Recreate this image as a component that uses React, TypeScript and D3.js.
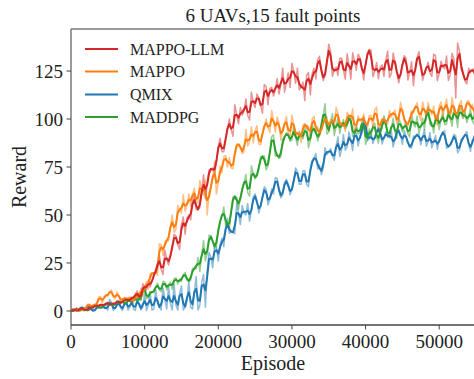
import React from 'react';
import * as d3 from 'd3';

const TITLE = '6 UAVs,15 fault points';
const X_LABEL = 'Episode';
const Y_LABEL = 'Reward';
const EPISODE_STEP = 500; // A arrays at 0, 500, 1000 ...; B arrays at 250, 750, 1250 ...
const EPISODE_OFFSET_B = 250;
const X_TICKS = [0, 10000, 20000, 30000, 40000, 50000];
const Y_TICKS = [0, 25, 50, 75, 100, 125];
const SERIES_NAMES = ['MAPPO-LLM', 'MAPPO', 'QMIX', 'MADDPG'];
const SERIES_COLORS = ['#d62728', '#ff7f0e', '#1f77b4', '#2ca02c'];

const MAPPO_LLM_RAW_A = [
  0, 0.8, 0.2, 1.6, 0.4, 1.7, 1.1, 2.8, 3.6, 2.8,
  4.6, 3.6, 3.3, 5.0, 5.0, 6.4, 5.4, 6.7, 10.5, 6.0,
  12, 16, 15.5, 20, 29, 19, 27, 29, 40, 35,
  45, 40, 50, 57, 53, 54, 71, 66, 74, 72,
  86, 83, 90, 100, 91, 102, 106, 104, 102, 114,
  106, 111, 103, 117, 116, 112, 121, 118, 114, 124,
  129, 118.6, 115.2, 119.2, 122.8, 112.6, 126.4, 131, 124.8, 122.4,
  139, 122.2, 127, 131.6, 125.6, 134, 120.8, 130.2, 133.8, 126.4,
  128.8, 136.2, 122, 129.4, 127, 122.2, 135.4, 123.6, 129.6, 118.8,
  128.2, 131.8, 124.4, 117.4, 132, 127.4, 123.8, 129.6, 122.2, 133.2,
  123.6, 127, 132.8, 123, 131.2, 139.6, 125.4, 119.8, 126.4, 125.6, 119.8,
];
const MAPPO_LLM_RAW_B = [
  0.45, 0, 1.4, 0.75, 0.35, 2.2, 3.3, 2.3, 3.1, 3.95,
  2.9, 4.2, 5.15, 3.7, 5.4, 5.45, 7.25, 7.95, 6.75, 14.25,
  11, 12.5, 19, 24, 21.5, 31.5, 24, 32.5, 39, 32,
  49, 48.5, 47.5, 60.5, 52.5, 62, 58.5, 73.5, 74.5, 77.5,
  90, 83, 95, 94.5, 107.5, 97.5, 102, 110.5, 99.5, 108.5,
  113, 107.5, 118, 107.5, 116.5, 115.5, 113, 126.5, 119, 116.5,
  125.1, 126.5, 116.6, 109.6, 124.3, 123.7, 120.9, 132.7, 120, 128.9,
  135.4, 125.8, 122.7, 131.6, 120.8, 128, 134.5, 125.4, 131.9, 120.4,
  134.3, 135.7, 125.1, 121, 128.2, 130.6, 121.7, 134.4, 124.8, 122.9,
  133, 120.3, 129.9, 126.5, 135.1, 120.2, 126.7, 124.1, 133.7, 120,
  130.1, 126.3, 120.1, 134.3, 111, 135.5, 124.4, 118.3, 124.2, 126.3,
];

const MAPPO_RAW_A = [
  0, 0.9, 1.0, 0.1, 0.9, 3.6, 3.2, 2.5, 7.6, 7.5,
  7.7, 10.9, 6.4, 7.9, 6.2, 6.6, 7.5, 4.1, 6.6, 11.9,
  12.6, 11.4, 19.8, 21, 35, 29, 37, 44, 41, 55,
  51, 52, 61, 61, 56, 68, 60, 50, 64, 78,
  67, 72, 81, 80, 74, 87, 86, 83, 86, 96,
  94, 87, 93, 100, 93, 99, 101, 89, 97, 93,
  102, 90.4, 93.1, 96.7, 95.8, 89.6, 101.4, 96, 94.3, 100.6,
  93.5, 99.8, 106.1, 95.4, 97.2, 103.5, 99.9, 93.6, 101.7, 99,
  96.3, 101.8, 95.5, 106.2, 97.2, 100, 97.3, 100.9, 104.6, 99.2,
  104.7, 97.5, 99.3, 103, 108.4, 99.4, 104.9, 108.5, 102.2, 99.5,
  106.7, 101.4, 110.4, 99.6, 105.9, 101.5, 109.6, 104.2, 109.5, 107.7, 104,
];
const MAPPO_RAW_B = [
  1.35, 0, 1.4, 1.05, 3.55, 1.7, 3.35, 7.25, 3.95, 8.4,
  10.1, 7.05, 9.9, 4.95, 6.85, 6, 5.05, 9.4, 8.2, 7.75,
  15.3, 19.5, 19.3, 18.5, 34.5, 36, 36.5, 50, 42.5, 52.5,
  60.5, 55, 54.5, 64, 56.5, 63, 68.5, 62, 69, 61,
  75.5, 80.5, 75, 74.5, 83, 87, 82, 94.5, 88, 87.5,
  96.5, 86.5, 96, 95.5, 104.5, 93, 98, 94.5, 101.5, 90,
  97.5, 93.1, 87.7, 97.6, 96.3, 100, 93.3, 91.1, 97.9, 101.1,
  99.8, 94.4, 103, 98.1, 93.6, 101.7, 105.3, 96.3, 99, 102.6,
  95, 101.8, 104.9, 92.7, 100.4, 98.2, 104.5, 103.2, 97.4, 108.7,
  99.3, 96.6, 104.3, 106.6, 102.1, 108.9, 99.5, 104, 106.7, 96.8,
  109, 105.9, 102.3, 111.3, 101.9, 107.8, 100.6, 109.1, 105, 102.7,
];

const QMIX_RAW_A = [
  0, 0.3, 0, 2.3, 0.3, 2, 0, 2, 3.3, 1.5,
  0.5, 4.5, 1.5, 5.5, 0.3, 6, 2, 1, 8, 0.5,
  9, 3, 0.5, 11, 2, 12, 1, 4, 14, 0.5,
  13, 2, 16, 1, 18, 3, 19, 20, 28, 34,
  26, 38, 44, 40.5, 41, 56.5, 45, 51, 56, 52.5,
  61, 51, 59, 63.5, 58, 61, 69, 59, 67, 66,
  63, 74.5, 66, 73, 66, 74.5, 79, 74, 71, 85,
  83, 81, 86, 80.5, 92, 85.5, 89, 94, 86, 92.5,
  98.4, 89.6, 87.2, 93.1, 93.4, 90.2, 91, 93.4, 89.4, 94.5,
  86.8, 90.8, 85.2, 91.1, 92.2, 86.6, 94.6, 88.2, 85, 91.4,
  89, 93.3, 84.8, 86.4, 92, 82.4, 89.6, 91.7, 86.6, 89.3, 94.4,
];
const QMIX_RAW_B = [
  0, 1.65, 1.4, 0.1, 3.1, 0.6, 0.1, 2.35, 3, 1.75,
  6, 0.2, 3, 1.5, 4, 0.5, 7, 0.3, 3, 2,
  0.3, 10, 1, 4, 0.5, 6, 13, 0.5, 3, 9,
  0.5, 5, 2, 10, 0.5, 15, 2, 30.5, 22.5, 33.5,
  34.5, 33.5, 48.25, 41.75, 40.25, 50.75, 55, 50, 46.75, 59.25,
  57.5, 54.5, 64.75, 55.25, 63.5, 69.5, 62.5, 60.5, 68.5, 60.5,
  67.25, 72.75, 66, 73, 64.75, 78.25, 82, 76, 74.5, 81.5,
  84.5, 78.5, 90.75, 84.25, 83.75, 93.25, 83.5, 92.5, 91.25, 99.75,
  88.8, 92.8, 90.15, 96.05, 87, 93.4, 90.2, 85.4, 93.95, 91.85,
  94, 87.6, 84.95, 90.05, 92.2, 90.6, 85.8, 93, 88.2, 84.2,
  91.15, 93.85, 85.6, 88, 91.2, 84, 89.85, 93.55, 83.15, 89.05,
];

const MADDPG_RAW_A = [
  0, 0.5, 0, 1.6, 1.4, 0.6, 2.5, 2, 1.5, 3.4,
  4.2, 3.1, 3.2, 4.4, 5.3, 3.4, 5.4, 6.5, 5.5, 5.5,
  13, 7, 10, 12.5, 11, 15.5, 11, 15, 17, 14,
  15.5, 20, 15.5, 22.2, 22, 20.6, 36.7, 29.8, 39.3, 32.4,
  43.1, 49.4, 44.7, 42.2, 59.5, 59.2, 58.9, 66.3, 61.6, 75.6,
  68.8, 74, 80.4, 73.5, 82.1, 91.8, 81.7, 80.4, 90.2, 92.3,
  88.9, 90.5, 93.7, 89.7, 96.5, 88.9, 93.9, 88.6, 96.8, 108,
  93.3, 102.8, 96.1, 92.5, 99.7, 96.5, 101.4, 91.4, 92.2, 98,
  86.7, 94.8, 96.6, 90.8, 94.9, 101.7, 90.5, 95, 93.2, 100.9,
  93.3, 98.7, 90.6, 97.4, 101.5, 95.7, 94.4, 106.6, 98.1, 100.8,
  94.5, 103.1, 97.3, 100.5, 106.4, 95.6, 102.8, 104.2, 101.1, 98.9, 109.3,
];
const MADDPG_RAW_B = [
  0.15, 1.4, 0.05, 1.3, 0, 2.15, 2.95, 1.85, 1.65, 3.1,
  3.85, 2.95, 5.5, 4.15, 4.05, 5.9, 4.05, 6.15, 6.5, 11.5,
  6.5, 10, 9.5, 14.5, 10, 15, 13.75, 11.25, 17.25, 16.75,
  19, 16, 16, 22.1, 27.9, 29.2, 26.1, 39.5, 36.4, 33.9,
  46.8, 54.2, 46.2, 52.5, 59.9, 53, 63.7, 71.1, 59.8, 71.1,
  70.3, 80.5, 80.8, 75.6, 90.8, 80.7, 79.4, 89.7, 92.9, 88.4,
  96.85, 86.25, 91.25, 94.45, 85.05, 97.25, 94.4, 91.8, 101.55, 92.15,
  98.05, 91.35, 100.6, 97, 94.95, 101.65, 91, 97.2, 92.85, 101.35,
  89.4, 91.2, 97.75, 87.45, 95.15, 98.35, 92.3, 100.4, 89.85, 97.55,
  96, 92.4, 103.45, 95.85, 92.75, 100.45, 102.75, 96.95, 92.7, 102.6,
  100.15, 97.05, 105.65, 96.25, 102.8, 107.3, 100.35, 98.15, 104.95, 97.35,
];

const SERIES_A = [MAPPO_LLM_RAW_A, MAPPO_RAW_A, QMIX_RAW_A, MADDPG_RAW_A];
const SERIES_B = [MAPPO_LLM_RAW_B, MAPPO_RAW_B, QMIX_RAW_B, MADDPG_RAW_B];
const DRAW_ORDER = [2, 3, 1, 0];
const SMOOTH_WEIGHTS = [1, 2, 1];

const W = 474;
const H = 379;
const FONT = "'Liberation Serif', 'Times New Roman', serif";

type Pt = [number, number];

function merge(a: number[], b: number[]): Pt[] {
  const out: Pt[] = [];
  a.forEach((v, i) => {
    out.push([i * EPISODE_STEP, v]);
    if (i < b.length) out.push([i * EPISODE_STEP + EPISODE_OFFSET_B, b[i]]);
  });
  return out;
}

function smooth(p: Pt[]): Pt[] {
  const h = Math.floor(SMOOTH_WEIGHTS.length / 2);
  return p.map((pt, i) => {
    let s = 0;
    let w = 0;
    SMOOTH_WEIGHTS.forEach((wt, k) => {
      const j = Math.min(p.length - 1, Math.max(0, i + k - h));
      s += p[j][1] * wt;
      w += wt;
    });
    return [pt[0], s / w] as Pt;
  });
}

export default function App() {
  const left = 71;
  const top = 29;
  const bottom = 325;
  const x = d3.scaleLinear().domain([0, 55000]).range([left, 476]);
  const y = d3.scaleLinear().domain([-7.3, 146.9]).range([bottom, top]);
  const line = d3
    .line<Pt>()
    .x((d) => x(d[0]))
    .y((d) => y(d[1]));

  const raws = SERIES_A.map((a, k) => merge(a, SERIES_B[k]));
  const legendY = [49, 71.5, 94.5, 117];

  return (
    <svg
      width={W}
      height={H}
      style={{ position: 'absolute', left: 0, top: 0, background: '#fff' }}
      fontFamily={FONT}
    >
      <defs>
        <clipPath id="plotclip">
          <rect x={left} y={top} width={W - left} height={bottom - top} />
        </clipPath>
      </defs>
      <rect x={0} y={0} width={W} height={H} fill="#fff" />
      <g clipPath="url(#plotclip)">
        {DRAW_ORDER.map((k) => (
          <path
            key={'raw' + k}
            d={line(raws[k]) || ''}
            fill="none"
            stroke={SERIES_COLORS[k]}
            strokeOpacity={0.5}
            strokeWidth={1.5}
            strokeLinejoin="round"
          />
        ))}
        {DRAW_ORDER.map((k) => (
          <path
            key={'sm' + k}
            d={line(smooth(raws[k])) || ''}
            fill="none"
            stroke={SERIES_COLORS[k]}
            strokeWidth={2}
            strokeLinejoin="round"
          />
        ))}
      </g>
      <line x1={left} x2={left} y1={top} y2={bottom} stroke="#666" strokeWidth={1.3} />
      <line x1={left} x2={W} y1={bottom} y2={bottom} stroke="#444" strokeWidth={1.3} />
      <line x1={left} x2={W} y1={top} y2={top} stroke="#777" strokeWidth={1.3} />
      {Y_TICKS.map((t) => (
        <g key={'yt' + t}>
          <line x1={left - 4.5} x2={left} y1={y(t)} y2={y(t)} stroke="#444" strokeWidth={1} />
          <text x={left - 8} y={y(t)} dy="0.35em" textAnchor="end" fontSize={19} fill="#222">
            {t}
          </text>
        </g>
      ))}
      {X_TICKS.map((t) => (
        <g key={'xt' + t}>
          <line x1={x(t)} x2={x(t)} y1={bottom} y2={bottom + 4.5} stroke="#444" strokeWidth={1} />
          <text x={x(t)} y={348} textAnchor="middle" fontSize={19} fill="#222">
            {t}
          </text>
        </g>
      ))}
      <text x={273} y={370} textAnchor="middle" fontSize={20} fill="#222">
        {X_LABEL}
      </text>
      <text
        transform={`translate(26, ${(top + bottom) / 2}) rotate(-90)`}
        textAnchor="middle"
        fontSize={20}
        fill="#222"
      >
        {Y_LABEL}
      </text>
      <text x={273} y={22} textAnchor="middle" fontSize={19} fill="#222">
        {TITLE}
      </text>
      {SERIES_NAMES.map((name, i) => (
        <g key={'lg' + i}>
          <line x1={85} x2={118} y1={legendY[i]} y2={legendY[i]} stroke={SERIES_COLORS[i]} strokeWidth={2.2} />
          <text x={130} y={legendY[i]} dy="0.35em" fontSize={16} fill="#222">
            {name}
          </text>
        </g>
      ))}
    </svg>
  );
}
